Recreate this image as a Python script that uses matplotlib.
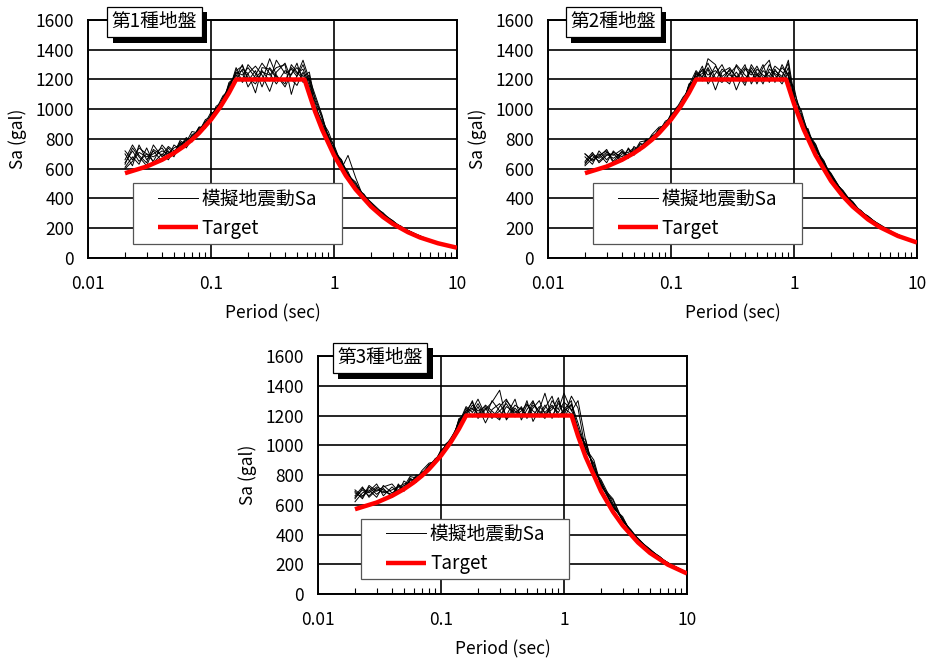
import matplotlib
matplotlib.use("Agg")
import matplotlib.pyplot as plt
from matplotlib import patheffects
from matplotlib.patches import Rectangle
from matplotlib.ticker import LogLocator, NullFormatter

plt.rcParams['font.family'] = ['Noto Sans CJK JP', 'DejaVu Sans']

# periods shared by the simulated spectra (sec)
periods = [0.02, 0.023, 0.026, 0.03, 0.034, 0.04, 0.045, 0.05, 0.056, 0.063,
           0.07, 0.08, 0.09, 0.1, 0.11, 0.125, 0.14, 0.16, 0.18, 0.2,
           0.23, 0.26, 0.3, 0.34, 0.4, 0.45, 0.5, 0.56, 0.63, 0.7,
           0.8, 0.9, 1.0, 1.15, 1.3, 1.5, 1.75, 2.0, 2.5, 3.0,
           3.5, 4.0, 5.0, 6.0, 7.0, 8.0, 10.0]

# target spectra (period, Sa)
target1_T = [0.02, 0.03, 0.04, 0.05, 0.06, 0.07, 0.08, 0.1, 0.12, 0.14, 0.16, 0.576,
             0.7, 0.8, 1.0, 1.25, 1.5, 2.0, 2.5, 3.0, 4.0, 5.0, 7.0, 10.0]
target1_Sa = [570, 615, 660, 705, 750, 795, 840, 930, 1020, 1110, 1200, 1200,
              987, 864, 691, 553, 461, 346, 276, 230, 173, 138, 99, 69]
target2_T = [0.02, 0.03, 0.04, 0.05, 0.06, 0.07, 0.08, 0.1, 0.12, 0.14, 0.16, 0.864,
             1.0, 1.2, 1.5, 2.0, 2.5, 3.0, 4.0, 5.0, 7.0, 10.0]
target2_Sa = [570, 615, 660, 705, 750, 795, 840, 930, 1020, 1110, 1200, 1200,
              1037, 864, 691, 518, 415, 346, 259, 207, 148, 104]
target3_T = [0.02, 0.03, 0.04, 0.05, 0.06, 0.07, 0.08, 0.1, 0.12, 0.14, 0.16, 1.152,
             1.3, 1.5, 2.0, 2.5, 3.0, 4.0, 5.0, 7.0, 10.0]
target3_Sa = [570, 615, 660, 705, 750, 795, 840, 930, 1020, 1110, 1200, 1200,
              1063, 922, 691, 553, 461, 346, 276, 197, 138]

# simulated ground motion spectra, ground type 1
sim1 = [
    [640, 720, 650, 700, 680, 720, 700, 740, 760, 790, 810, 870, 900, 960, 1000, 1060, 1150, 1250, 1230, 1280,
     1210, 1260, 1190, 1330, 1240, 1270, 1220, 1300, 1180, 1080, 950, 820, 730, 650, 560, 500, 420, 375, 300, 250,
     210, 185, 148, 122, 104, 90, 72],
    [700, 620, 760, 660, 720, 650, 740, 700, 790, 760, 830, 850, 920, 930, 1010, 1040, 1180, 1220, 1300, 1190,
     1260, 1150, 1280, 1220, 1170, 1300, 1250, 1200, 1230, 1010, 910, 790, 740, 600, 690, 540, 400, 360, 295, 240,
     212, 178, 146, 118, 103, 88, 70],
    [610, 680, 630, 740, 640, 700, 660, 720, 740, 800, 790, 880, 880, 950, 980, 1080, 1120, 1280, 1180, 1240,
     1290, 1230, 1120, 1250, 1310, 1200, 1160, 1250, 1140, 1050, 880, 830, 700, 640, 580, 470, 430, 365, 280, 248,
     204, 184, 141, 124, 101, 91, 71],
    [660, 760, 690, 640, 760, 680, 720, 680, 770, 780, 850, 840, 910, 980, 970, 1070, 1160, 1240, 1260, 1150,
     1230, 1310, 1240, 1170, 1260, 1230, 1310, 1180, 1210, 1100, 960, 800, 720, 660, 540, 490, 410, 350, 305, 236,
     215, 175, 150, 117, 106, 87, 70],
    [600, 650, 710, 680, 700, 740, 680, 760, 730, 770, 820, 860, 890, 940, 1020, 1050, 1140, 1200, 1270, 1240,
     1110, 1280, 1270, 1210, 1190, 1280, 1240, 1270, 1160, 1020, 920, 850, 750, 620, 570, 480, 425, 340, 290, 252,
     200, 182, 143, 121, 100, 89, 71],
    [720, 660, 740, 700, 650, 760, 710, 690, 780, 740, 800, 880, 870, 970, 990, 1030, 1170, 1230, 1200, 1300,
     1240, 1190, 1340, 1230, 1150, 1240, 1280, 1220, 1250, 1060, 940, 790, 710, 660, 555, 510, 405, 372, 285, 245,
     208, 186, 147, 119, 104, 90, 72],
    [630, 740, 680, 620, 730, 690, 750, 720, 750, 810, 780, 850, 930, 950, 1000, 1090, 1130, 1260, 1290, 1210,
     1170, 1250, 1230, 1280, 1300, 1100, 1230, 1330, 1200, 990, 900, 810, 760, 630, 545, 475, 415, 355, 298, 238,
     206, 177, 145, 123, 102, 88, 70],
]

# ground type 2
sim2 = [
    [640, 690, 650, 700, 670, 710, 690, 730, 740, 780, 800, 860, 890, 950, 990, 1060, 1140, 1230, 1260, 1200,
     1290, 1220, 1260, 1130, 1270, 1230, 1290, 1210, 1250, 1200, 1280, 1230, 1120, 970, 850, 740, 640, 560, 440, 372,
     310, 278, 218, 184, 155, 136, 106],
    [680, 630, 720, 660, 710, 680, 730, 700, 770, 760, 820, 840, 910, 930, 1000, 1040, 1160, 1210, 1290, 1170,
     1240, 1300, 1190, 1250, 1160, 1280, 1220, 1300, 1180, 1260, 1220, 1310, 1060, 880, 870, 720, 650, 540, 450, 360,
     318, 270, 222, 180, 158, 134, 105],
    [620, 670, 700, 640, 720, 660, 700, 720, 730, 800, 790, 870, 880, 960, 980, 1070, 1120, 1250, 1190, 1270,
     1130, 1250, 1280, 1210, 1300, 1170, 1240, 1190, 1300, 1230, 1170, 1250, 1010, 950, 820, 760, 610, 555, 430, 375,
     305, 275, 215, 186, 152, 137, 106],
    [700, 660, 680, 730, 650, 720, 670, 750, 720, 790, 810, 850, 900, 940, 1010, 1050, 1150, 1220, 1240, 1310,
     1210, 1180, 1240, 1290, 1200, 1260, 1170, 1260, 1220, 1290, 1250, 1200, 1150, 920, 860, 700, 640, 530, 455, 365,
     315, 268, 220, 178, 157, 133, 105],
    [650, 710, 640, 690, 700, 650, 740, 690, 760, 770, 830, 880, 890, 970, 990, 1030, 1170, 1200, 1270, 1230,
     1260, 1210, 1170, 1300, 1230, 1190, 1270, 1230, 1200, 1270, 1190, 1280, 1080, 990, 830, 750, 620, 565, 435, 380,
     308, 280, 212, 182, 154, 138, 104],
    [700, 650, 690, 720, 640, 700, 710, 740, 730, 760, 820, 850, 920, 940, 1000, 1080, 1130, 1240, 1220, 1280,
     1190, 1270, 1230, 1200, 1280, 1250, 1200, 1280, 1330, 1180, 1300, 1220, 1040, 960, 810, 730, 655, 548, 445, 355,
     320, 272, 225, 185, 151, 135, 105],
    [630, 700, 670, 710, 690, 730, 680, 710, 780, 790, 800, 870, 900, 960, 990, 1050, 1160, 1260, 1210, 1340,
     1300, 1190, 1270, 1220, 1180, 1300, 1240, 1170, 1270, 1240, 1210, 1330, 1100, 900, 840, 765, 630, 570, 438, 370,
     312, 282, 216, 179, 156, 136, 104],
]

# ground type 3
sim3 = [
    [650, 700, 660, 710, 680, 700, 720, 710, 760, 780, 800, 860, 880, 950, 990, 1060, 1150, 1230, 1250, 1210,
     1270, 1230, 1180, 1260, 1220, 1250, 1190, 1270, 1230, 1200, 1260, 1220, 1290, 1240, 1100, 1000, 850, 740, 600, 500,
     420, 370, 295, 248, 208, 182, 142],
    [690, 640, 720, 670, 710, 650, 740, 690, 780, 750, 820, 840, 910, 930, 1000, 1050, 1170, 1210, 1300, 1180,
     1240, 1290, 1370, 1170, 1250, 1200, 1300, 1160, 1240, 1350, 1180, 1300, 1200, 1330, 1250, 960, 880, 720, 630, 490,
     425, 365, 300, 240, 212, 180, 140],
    [620, 680, 700, 650, 730, 680, 700, 730, 740, 800, 790, 870, 890, 960, 980, 1070, 1130, 1250, 1190, 1260,
     1150, 1240, 1280, 1200, 1310, 1170, 1240, 1300, 1190, 1250, 1330, 1190, 1240, 1300, 1050, 1040, 820, 760, 580, 520,
     410, 375, 290, 250, 205, 185, 141],
    [700, 660, 690, 740, 660, 720, 680, 760, 730, 790, 810, 850, 900, 940, 1010, 1040, 1160, 1220, 1240, 1310,
     1200, 1190, 1230, 1280, 1190, 1260, 1180, 1250, 1300, 1210, 1240, 1320, 1180, 1280, 1150, 980, 900, 730, 640, 495,
     430, 360, 298, 242, 210, 178, 139],
    [660, 720, 650, 700, 690, 670, 730, 700, 770, 770, 830, 880, 890, 970, 990, 1030, 1180, 1200, 1270, 1230,
     1260, 1210, 1170, 1300, 1230, 1190, 1270, 1230, 1200, 1270, 1190, 1280, 1250, 1210, 1080, 1010, 840, 750, 590, 510,
     418, 368, 292, 246, 206, 184, 142],
    [640, 710, 680, 720, 700, 660, 720, 740, 750, 760, 810, 870, 900, 960, 1000, 1070, 1150, 1260, 1220, 1280,
     1190, 1300, 1230, 1180, 1270, 1240, 1200, 1290, 1220, 1180, 1300, 1240, 1350, 1230, 1300, 1030, 830, 770, 610, 490,
     432, 372, 296, 252, 204, 186, 141],
    [680, 650, 730, 690, 720, 740, 690, 720, 790, 780, 800, 860, 910, 940, 1010, 1050, 1170, 1230, 1290, 1200,
     1250, 1180, 1260, 1310, 1200, 1230, 1280, 1200, 1260, 1220, 1270, 1200, 1230, 1270, 1120, 970, 870, 735, 585, 505,
     415, 362, 302, 244, 209, 181, 140],
]

titles = ["第1種地盤", "第2種地盤", "第3種地盤"]
sim_label = "模擬地震動Sa"
target_label = "Target"
x_ticks = [0.01, 0.1, 1, 10]
x_ticklabels = ["0.01", "0.1", "1", "10"]
y_ticks = [0, 200, 400, 600, 800, 1000, 1200, 1400, 1600]

# sims, target T, target Sa, axes rect, legend box (x0, y0, w, h), title x
panels = [
    (sim1, target1_T, target1_Sa, [0.0946, 0.6091, 0.3968, 0.3606], (0.122, 0.059, 0.566, 0.256), 0.180),
    (sim2, target2_T, target2_Sa, [0.5892, 0.6091, 0.3968, 0.3606], (0.122, 0.059, 0.566, 0.256), 0.177),
    (sim3, target3_T, target3_Sa, [0.3419, 0.1000, 0.3968, 0.3606], (0.117, 0.063, 0.564, 0.252), 0.168),
]

fig = plt.figure(figsize=(9.3, 6.6), dpi=100)

for i, (sims, tT, tSa, pos, lbox, tx) in enumerate(panels):
    ax = fig.add_axes(pos)
    for k, s in enumerate(sims):
        ax.plot(periods, s, color='black', lw=0.7, label=sim_label if k == 0 else None, zorder=3)
    ax.plot(tT, tSa, color='#ff0000', lw=3.2, label=target_label, zorder=4, solid_capstyle='butt')

    ax.set_xscale('log')
    ax.set_xlim(0.01, 10)
    ax.set_ylim(0, 1600)
    ax.set_xticks(x_ticks)
    ax.set_xticklabels(x_ticklabels)
    ax.xaxis.set_minor_locator(LogLocator(base=10, subs=[2, 3, 4, 5, 6, 7, 8, 9], numticks=20))
    ax.xaxis.set_minor_formatter(NullFormatter())
    ax.set_yticks(y_ticks)
    ax.tick_params(axis='x', which='major', length=0, pad=12.5, labelsize=12.5)
    ax.tick_params(axis='x', which='minor', direction='in', length=4, width=0.8, color='black')
    ax.tick_params(axis='y', length=0, pad=10, labelsize=12.5)
    ax.grid(True, which='major', color='black', lw=1.2)
    for sp in ax.spines.values():
        sp.set_linewidth(1.4)
        sp.set_color('black')

    ax.set_xlabel("Period (sec)", fontsize=12.5, labelpad=8)
    ax.set_ylabel("Sa (gal)", fontsize=12.5, labelpad=6)

    # legend frame and entries
    ax.add_patch(Rectangle((lbox[0], lbox[1]), lbox[2], lbox[3], transform=ax.transAxes,
                           facecolor='white', edgecolor='#555555', lw=0.9, zorder=5))
    leg = ax.legend(loc='center left', bbox_to_anchor=(lbox[0] + 0.068, lbox[1] + lbox[3] / 2),
                    fontsize=13.5, handlelength=2.13, handletextpad=0.2, borderpad=0,
                    labelspacing=0.45, frameon=False, borderaxespad=0)
    leg.set_zorder(6)

    t = ax.text(tx, 0.992, titles[i], transform=ax.transAxes, fontsize=13.5,
                ha='center', va='center', zorder=7, clip_on=False,
                bbox=dict(boxstyle='square,pad=0.25', facecolor='white', edgecolor='black', lw=0.9))
    t.get_bbox_patch().set_path_effects([
        patheffects.SimplePatchShadow(offset=(4, -4), shadow_rgbFace='black', alpha=1.0),
        patheffects.Normal()])

fig.savefig("out.png", dpi=100)
